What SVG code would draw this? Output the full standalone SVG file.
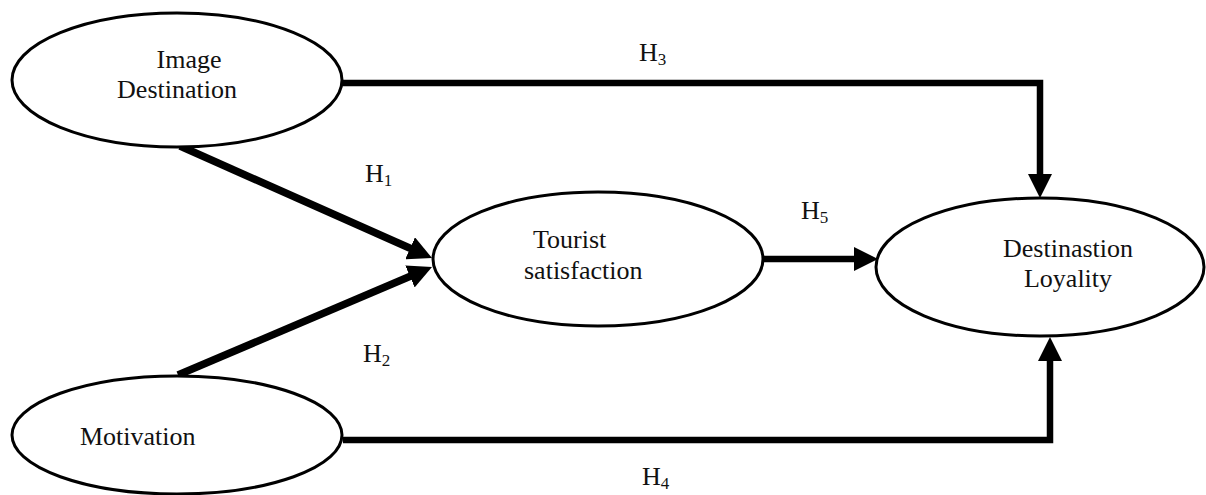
<svg xmlns="http://www.w3.org/2000/svg" width="1206" height="495" viewBox="0 0 1206 495">
<style>
.node ellipse{fill:#fff;stroke:#000;stroke-width:3}
text{font-family:"Liberation Serif","Times New Roman",serif;font-size:26px;fill:#111}
.sub{font-size:17px}
.conn path{fill:none;stroke:#000;stroke-width:6.5;stroke-linejoin:miter}
.diag{stroke-width:7.5 !important}
</style>
<defs>
<marker id="ah" markerUnits="userSpaceOnUse" markerWidth="24" markerHeight="24" refX="8" refY="12" orient="auto">
<path d="M0,0 L24,12 L0,24 z" fill="#000"/>
</marker>
</defs>
<g id="connectors" class="conn">
<path id="h1" class="diag" d="M180,146 L417.4,251.5" marker-end="url(#ah)"/>
<path id="h2" class="diag" d="M178,375 L417.3,273.3" marker-end="url(#ah)"/>
<path id="h3" d="M342,83 H1040 V182" marker-end="url(#ah)"/>
<path id="h4" d="M343,440 H1050 V353" marker-end="url(#ah)"/>
<path id="h5" d="M764,259 H862" marker-end="url(#ah)"/>
</g>
<g id="image-destination" class="node">
<ellipse cx="177" cy="80" rx="165" ry="67"/>
<text x="189" y="68" text-anchor="middle">Image</text>
<text x="177" y="98" text-anchor="middle">Destination</text>
</g>
<g id="motivation" class="node">
<ellipse cx="177" cy="435" rx="165" ry="59"/>
<text x="80" y="445">Motivation</text>
</g>
<g id="tourist-satisfaction" class="node">
<ellipse cx="598" cy="259" rx="165" ry="67"/>
<text x="533" y="248">Tourist</text>
<text x="524" y="279">satisfaction</text>
</g>
<g id="destination-loyalty" class="node">
<ellipse cx="1040" cy="267" rx="164" ry="69"/>
<text x="1068" y="257" text-anchor="middle">Destinastion</text>
<text x="1068" y="287" text-anchor="middle">Loyality</text>
</g>
<g id="labels">
<text x="365" y="182">H<tspan class="sub" dy="4">1</tspan></text>
<text x="363" y="362">H<tspan class="sub" dy="4">2</tspan></text>
<text x="639" y="61">H<tspan class="sub" dy="4">3</tspan></text>
<text x="642" y="485">H<tspan class="sub" dy="4">4</tspan></text>
<text x="801" y="219">H<tspan class="sub" dy="4">5</tspan></text>
</g>
</svg>
